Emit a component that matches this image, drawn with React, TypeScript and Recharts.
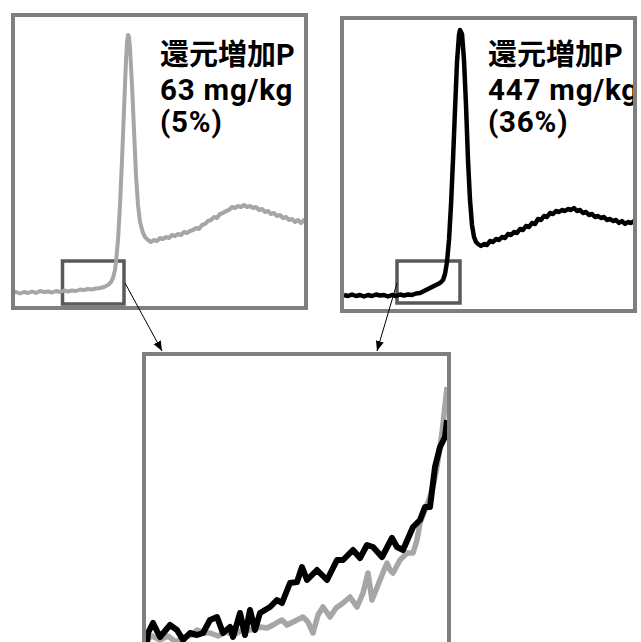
import { LineChart, Line, XAxis, YAxis, ReferenceArea } from "recharts";

// Panel A: 還元増加P 63 mg/kg (gray trace)
const timeA = [0, 4, 8, 12, 16, 20, 24, 28, 32, 36, 40, 44, 48, 52, 56, 60, 64, 68, 72, 76, 80, 84, 88, 92, 96, 99, 101, 103, 104, 106, 108, 110, 112, 114, 115, 116, 117, 118, 120, 122, 124, 126, 128, 131, 133, 136, 139, 142, 145, 148, 151, 154, 157, 160, 163, 166, 169, 172, 175, 178, 181, 184, 187, 190, 193, 196, 199, 202, 205, 208, 211, 214, 217, 220, 223, 226, 229, 232, 235, 238, 241, 244, 247, 250, 253, 256, 259, 262, 265, 268, 271, 274, 277, 280, 283, 286, 289, 292, 294];
const signalA = [15, 16, 14.5, 16, 15, 16.5, 15, 17, 16, 16.5, 15.5, 17, 16, 17.5, 16.5, 17.5, 17, 18.5, 18, 19, 18.5, 19.5, 20, 21, 23, 26, 30, 38, 46, 68, 103, 148, 198, 248, 266, 273, 271, 260, 223, 178, 133, 103, 86, 75, 71, 68, 66, 68, 67, 70, 69, 71, 70, 73, 72, 74, 73, 76, 75, 77, 78, 80, 79, 83, 84, 87, 88, 91, 90, 94, 95, 97, 98, 101, 100, 102, 101, 103, 101, 102, 100, 101, 98, 99, 96, 97, 94, 95, 92, 93, 90, 91, 88, 89, 86, 88, 85, 88, 87];

// Panel B: 還元増加P 447 mg/kg (black trace)
const timeB = [2, 6, 10, 14, 18, 22, 26, 30, 34, 38, 42, 46, 50, 54, 58, 62, 66, 70, 74, 78, 82, 86, 90, 94, 98, 101, 103, 105, 107, 109, 111, 113, 115, 117, 118, 120, 122, 124, 126, 128, 130, 132, 134, 136, 139, 142, 145, 148, 151, 154, 157, 160, 163, 166, 169, 172, 175, 178, 181, 184, 187, 190, 193, 196, 199, 202, 205, 208, 211, 214, 217, 220, 223, 226, 229, 232, 235, 238, 241, 244, 247, 250, 253, 256, 259, 262, 265, 268, 271, 274, 277, 280, 283, 286, 289, 292];
const signalB = [17, 16, 17.5, 16, 17, 15.5, 17, 16, 17.5, 16.5, 17, 15.5, 17, 16, 17.5, 16.5, 17.5, 17, 18.5, 19, 21, 23, 25, 27, 29, 32, 38, 50, 72, 107, 152, 202, 250, 277, 282, 278, 252, 207, 152, 112, 87, 75, 70, 68, 66, 68, 67, 71, 70, 73, 72, 75, 74, 78, 77, 80, 79, 83, 82, 86, 85, 89, 88, 93, 92, 96, 95, 99, 98, 101, 100, 102, 101, 103, 102, 104, 101, 102, 99, 100, 97, 98, 95, 96, 94, 95, 92, 93, 91, 92, 89, 91, 88, 90, 89, 91];

// Zoomed window (rising edge)
const zoomTimeA = [2, 8, 16, 24, 32, 40, 48, 53, 60, 66, 74, 82, 90, 98, 106, 116, 123, 129, 134, 138, 143, 151, 159, 164, 169, 174, 179, 184, 186, 192, 199, 206, 213, 219, 224, 228, 232, 236, 240, 243, 246, 249, 256, 263, 269, 273, 276, 281, 286, 290, 293, 298, 303];
const zoomSignalA = [10, 14, 10, 14, 8, 13, 15, 20, 17, 17, 14, 18, 15, 20, 20, 23, 22, 25, 28, 30, 25, 29, 33, 28, 17, 35, 43, 36, 33, 42, 47, 53, 43, 57, 77, 50, 60, 70, 80, 87, 80, 77, 90, 97, 97, 110, 127, 140, 153, 168, 183, 217, 263];
const zoomTimeB = [3, 4, 9, 16, 26, 33, 39, 46, 53, 59, 66, 73, 79, 86, 89, 96, 101, 106, 111, 116, 126, 133, 138, 146, 153, 158, 163, 173, 183, 193, 199, 209, 216, 223, 229, 238, 248, 253, 259, 269, 276, 281, 286, 291, 296, 301, 303];
const zoomSignalB = [6, 17, 27, 13, 25, 20, 10, 17, 15, 17, 30, 33, 17, 23, 13, 37, 15, 40, 20, 37, 43, 50, 47, 67, 68, 83, 70, 80, 70, 90, 90, 100, 92, 105, 103, 93, 112, 103, 100, 123, 130, 143, 143, 183, 203, 213, 230];

const labelsA = ["還元増加P", "63 mg/kg", "(5%)"];
const labelsB = ["還元増加P", "447 mg/kg", "(36%)"];

// zoom window marked on each small panel
const windowA = { x1: 50.5, x2: 112, y1: 4, y2: 47 };
const windowB = { x1: 55, x2: 118, y1: 9, y2: 51 };

const toRows = (t: number[], s: number[]) => t.map((v, i) => ({ t: v, s: s[i] }));

type TraceProps = {
  rows: { t: number; s: number }[];
  color: string;
  lineWidth: number;
  left: number;
  top: number;
  width: number;
  height: number;
  xMax: number;
  yMax: number;
  win?: { x1: number; x2: number; y1: number; y2: number };
};

function Trace({ rows, color, lineWidth, left, top, width, height, xMax, yMax, win }: TraceProps) {
  return (
    <div style={{ position: "absolute", left, top }}>
      <LineChart width={width} height={height} data={rows} margin={{ top: 0, right: 0, bottom: 0, left: 0 }}>
        <XAxis dataKey="t" type="number" domain={[0, xMax]} hide />
        <YAxis type="number" domain={[0, yMax]} hide />
        <Line
          type="linear"
          dataKey="s"
          stroke={color}
          strokeWidth={lineWidth}
          strokeLinejoin="round"
          dot={false}
          isAnimationActive={false}
        />
        {win && (
          <ReferenceArea
            x1={win.x1}
            x2={win.x2}
            y1={win.y1}
            y2={win.y2}
            fill="none"
            fillOpacity={0}
            stroke="#595959"
            strokeWidth={3.5}
            ifOverflow="visible"
          />
        )}
      </LineChart>
    </div>
  );
}

const frame = (left: number, top: number, width: number, height: number) => (
  <div
    style={{
      position: "absolute",
      left,
      top,
      width,
      height,
      boxSizing: "border-box",
      border: "4px solid #7f7f7f",
      pointerEvents: "none",
    }}
  />
);

// one absolutely placed row per text line
const rowTops = [37, 72, 104];
const rowSizes = [29, 29.5, 29.5];

const label = (lines: string[], left: number) =>
  lines.map((l, i) => (
    <div
      key={l}
      style={{
        position: "absolute",
        left,
        top: rowTops[i],
        fontFamily: "Roboto, 'Noto Sans CJK JP', sans-serif",
        fontWeight: 700,
        fontSize: rowSizes[i],
        lineHeight: "36px",
        letterSpacing: i === 0 ? 0 : 0.8,
        color: "#000",
        whiteSpace: "nowrap",
      }}
    >
      {l}
    </div>
  ));

export default function App() {
  return (
    <div
      style={{
        position: "fixed",
        left: 0,
        top: 0,
        width: 641,
        height: 642,
        overflow: "hidden",
        background: "#fff",
      }}
    >
      <Trace rows={toRows(timeA, signalA)} color="#a6a6a6" lineWidth={4} left={12} top={14} width={294} height={294} xMax={294} yMax={294} win={windowA} />
      {label(labelsA, 160)}
      {frame(11, 13, 297, 297)}

      <Trace rows={toRows(timeB, signalB)} color="#000" lineWidth={4.5} left={342} top={18} width={293} height={294} xMax={293} yMax={294} win={windowB} />
      {label(labelsB, 488)}
      {frame(340, 16, 297, 297)}

      <Trace rows={toRows(zoomTimeA, zoomSignalA)} color="#a6a6a6" lineWidth={5.5} left={144} top={353} width={306} height={297} xMax={306} yMax={297} />
      <Trace rows={toRows(zoomTimeB, zoomSignalB)} color="#000" lineWidth={6} left={144} top={353} width={306} height={297} xMax={306} yMax={297} />
      {frame(142, 352, 309, 320)}

      <svg width={641} height={642} style={{ position: "absolute", left: 0, top: 0, pointerEvents: "none" }}>
        <defs>
          <marker id="tip" markerUnits="userSpaceOnUse" markerWidth={10} markerHeight={10} refX={10} refY={5} orient="auto">
            <path d="M0,1 L10,5 L0,9 Z" fill="#000" />
          </marker>
        </defs>
        <line x1={125} y1={283} x2={162} y2={351} stroke="#000" strokeWidth={1} markerEnd="url(#tip)" />
        <line x1={397} y1={283} x2={377} y2={351} stroke="#000" strokeWidth={1} markerEnd="url(#tip)" />
      </svg>
    </div>
  );
}
